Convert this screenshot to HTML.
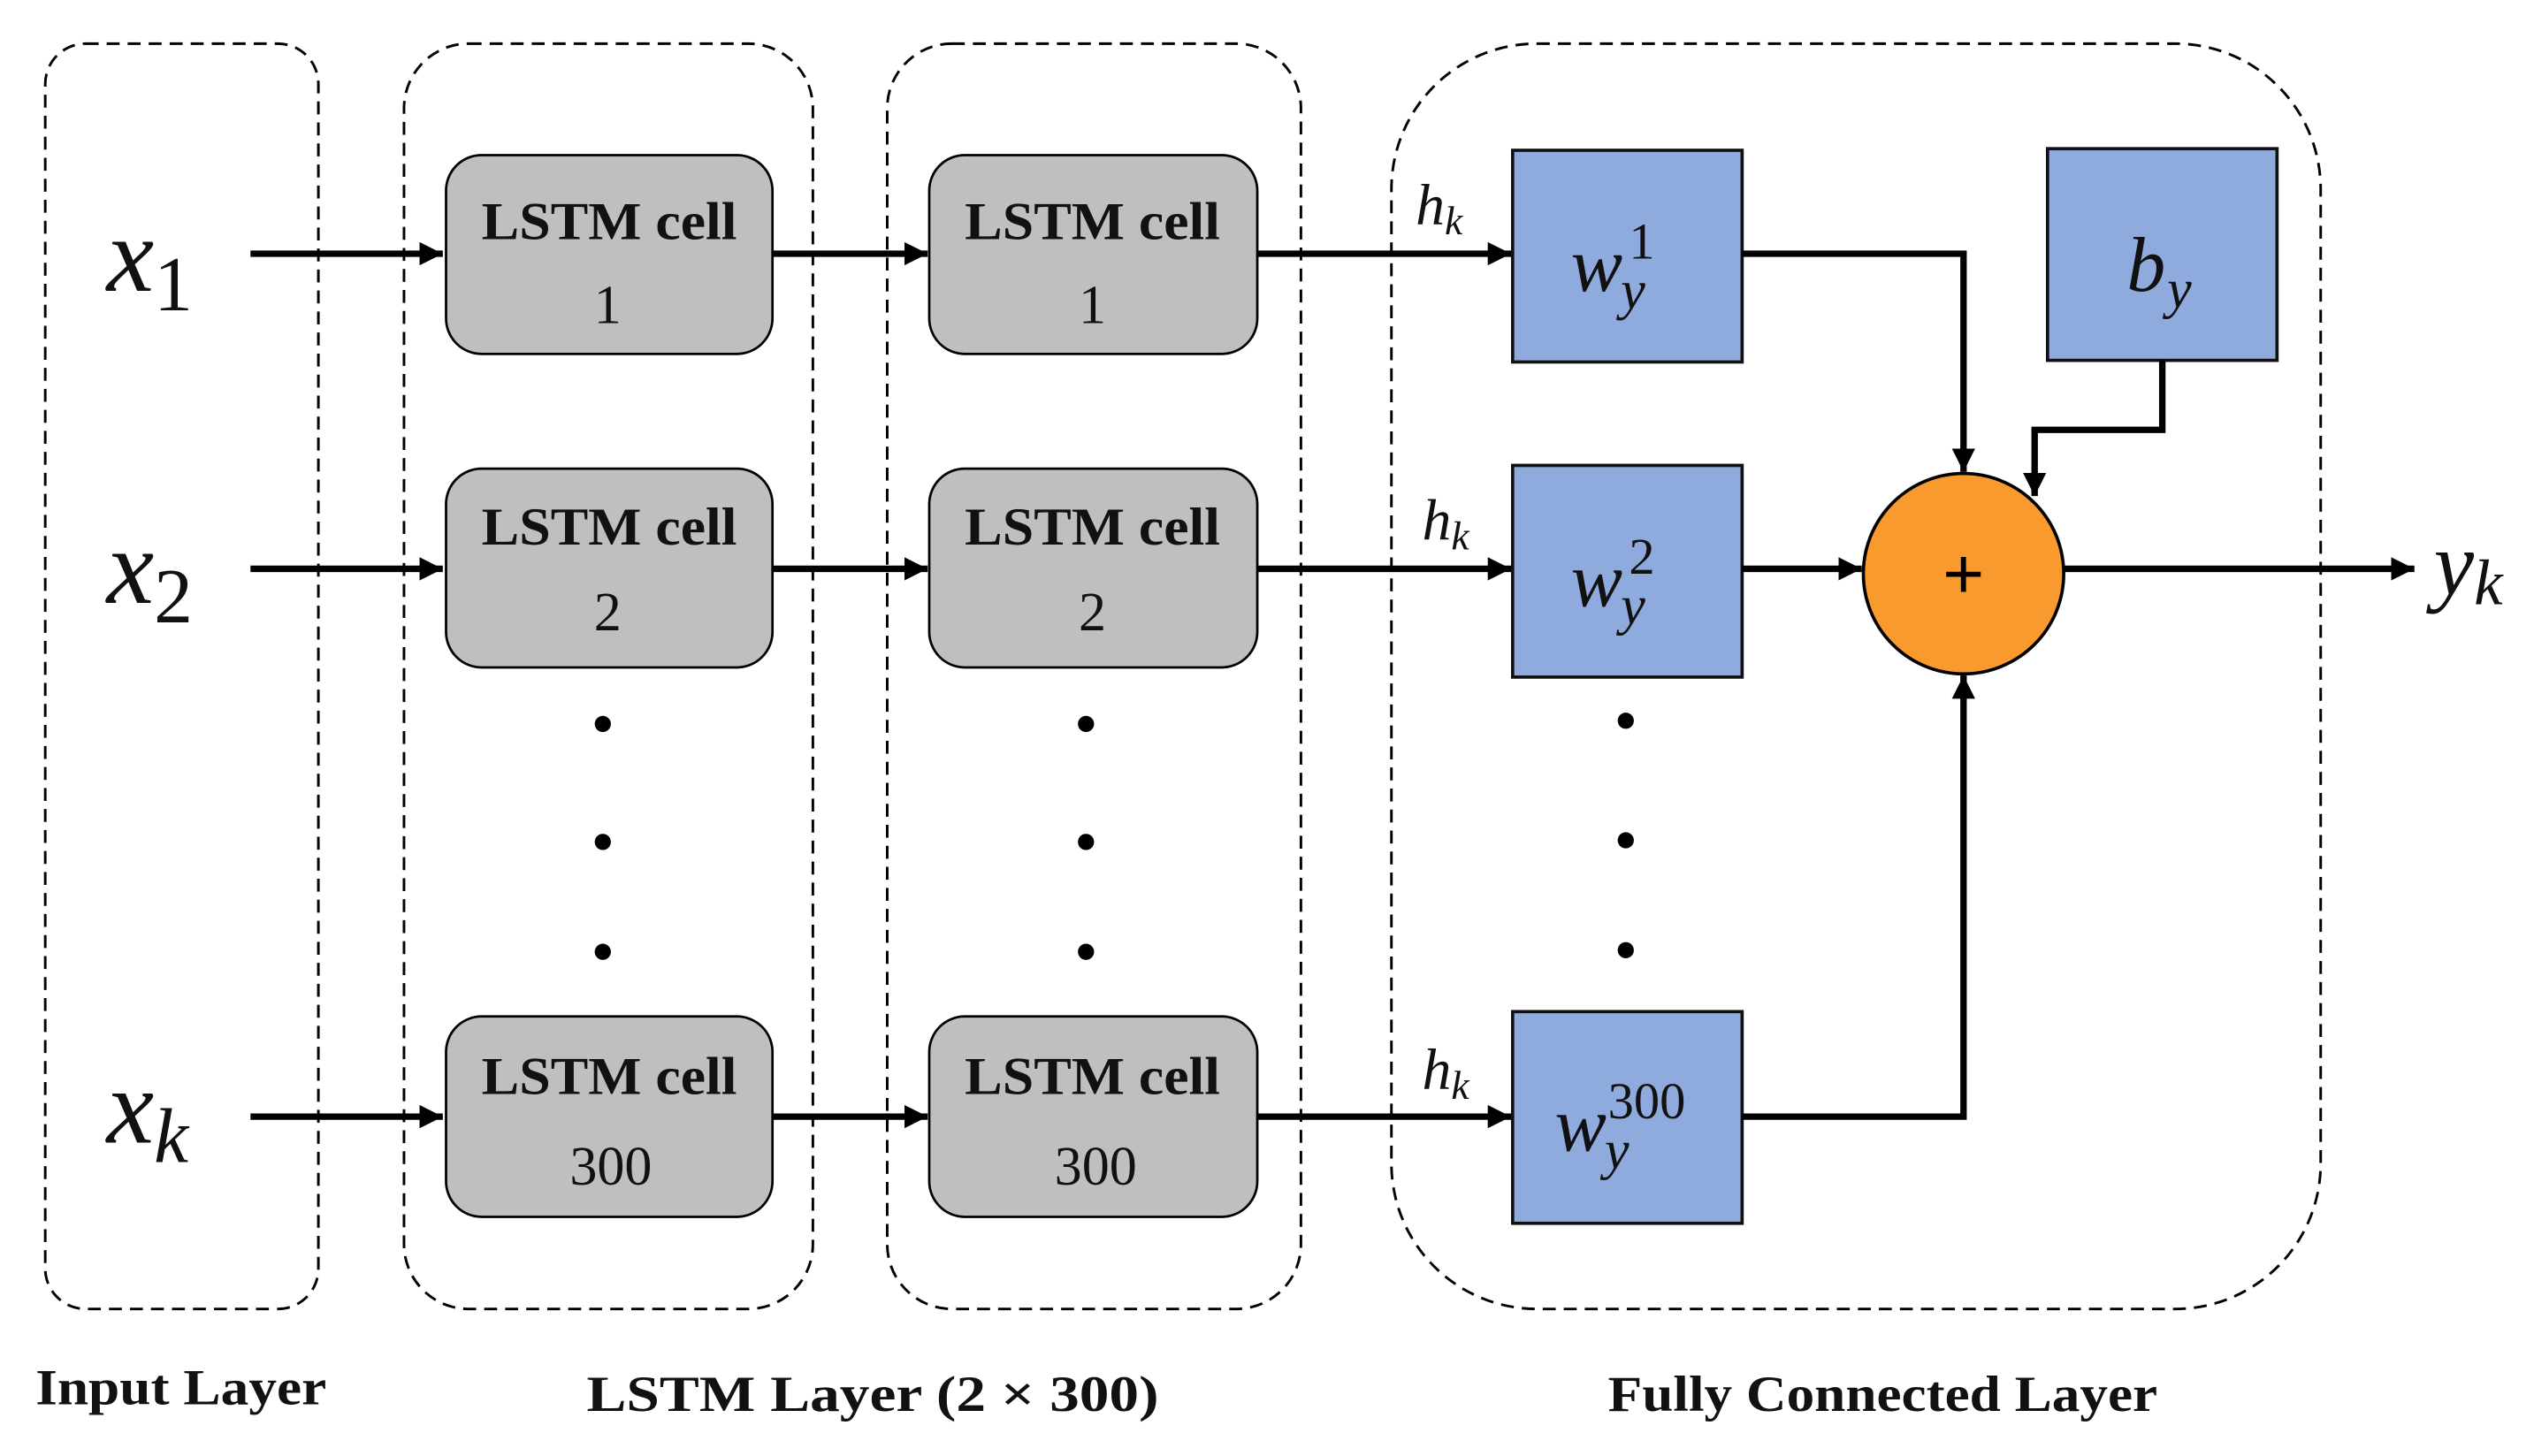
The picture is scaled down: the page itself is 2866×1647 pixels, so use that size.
<!DOCTYPE html>
<html><head><meta charset="utf-8"><style>html,body{margin:0;padding:0;background:#fff}svg{display:block}</style></head>
<body>
<svg width="2866" height="1647" viewBox="0 0 1568 901" preserveAspectRatio="none" xmlns="http://www.w3.org/2000/svg">
<defs>
<marker id="a" viewBox="0 0 10 10" refX="10" refY="5" markerWidth="3.6" markerHeight="3.6" orient="auto" markerUnits="strokeWidth"><path d="M0,0 L10,5 L0,10 z" fill="#000"/></marker>
</defs>
<g fill="none" stroke="#000" stroke-width="1.6" stroke-dasharray="8,5">
<rect x="28" y="27" width="169" height="783" rx="25"/>
<rect x="250" y="27" width="253" height="783" rx="40"/>
<rect x="549" y="27" width="256" height="783" rx="40"/>
<rect x="861" y="27" width="575" height="783" rx="90"/>
</g>
<g fill="#bfbfbf" stroke="#000" stroke-width="1.5">
<rect x="276" y="96" width="202" height="123" rx="22"/>
<rect x="575" y="96" width="203" height="123" rx="22"/>
<rect x="276" y="290" width="202" height="123" rx="22"/>
<rect x="575" y="290" width="203" height="123" rx="22"/>
<rect x="276" y="629" width="202" height="124" rx="22"/>
<rect x="575" y="629" width="203" height="124" rx="22"/>
</g>
<g font-family="Liberation Serif, serif" font-weight="bold" font-size="33" text-anchor="middle" fill="#111">
<text x="377" y="148" textLength="158" lengthAdjust="spacingAndGlyphs">LSTM cell</text>
<text x="676" y="148" textLength="158" lengthAdjust="spacingAndGlyphs">LSTM cell</text>
<text x="377" y="337" textLength="158" lengthAdjust="spacingAndGlyphs">LSTM cell</text>
<text x="676" y="337" textLength="158" lengthAdjust="spacingAndGlyphs">LSTM cell</text>
<text x="377" y="677" textLength="158" lengthAdjust="spacingAndGlyphs">LSTM cell</text>
<text x="676" y="677" textLength="158" lengthAdjust="spacingAndGlyphs">LSTM cell</text>
</g>
<g font-family="Liberation Serif, serif" font-size="34" text-anchor="middle" fill="#111">
<text x="376" y="200">1</text><text x="676" y="200">1</text>
<text x="376" y="390">2</text><text x="676" y="390">2</text>
<text x="378" y="733">300</text><text x="678" y="733">300</text>
</g>
<g fill="#8faadc" stroke="#111" stroke-width="2">
<rect x="936" y="93" width="142" height="131"/>
<rect x="936" y="288" width="142" height="131"/>
<rect x="936" y="626" width="142" height="131"/>
<rect x="1267" y="92" width="142" height="131"/>
</g>
<circle cx="1215" cy="355" r="62" fill="#f99a2f" stroke="#000" stroke-width="2"/>
<text x="1215" y="370" font-family="Liberation Sans, sans-serif" font-size="44" text-anchor="middle">+</text>
<g stroke="#000" stroke-width="4" fill="none" marker-end="url(#a)">
<line x1="155" y1="157" x2="274" y2="157"/>
<line x1="478" y1="157" x2="574" y2="157"/>
<line x1="778" y1="157" x2="935" y2="157"/>
<line x1="155" y1="352" x2="274" y2="352"/>
<line x1="478" y1="352" x2="574" y2="352"/>
<line x1="778" y1="352" x2="935" y2="352"/>
<line x1="155" y1="691" x2="274" y2="691"/>
<line x1="478" y1="691" x2="574" y2="691"/>
<line x1="778" y1="691" x2="935" y2="691"/>
<polyline points="1078,157 1215,157 1215,292"/>
<polyline points="1338,223 1338,266 1259,266 1259,307"/>
<line x1="1078" y1="352" x2="1152" y2="352"/>
<polyline points="1078,691 1215,691 1215,418"/>
<line x1="1277" y1="352" x2="1494" y2="352"/>
</g>
<g fill="#000">
<circle cx="373" cy="448" r="5"/><circle cx="373" cy="521" r="5"/><circle cx="373" cy="589" r="5"/>
<circle cx="672" cy="448" r="5"/><circle cx="672" cy="521" r="5"/><circle cx="672" cy="589" r="5"/>
<circle cx="1006" cy="446" r="5"/><circle cx="1006" cy="520" r="5"/><circle cx="1006" cy="588" r="5"/>
</g>
<g font-family="Liberation Serif, serif" font-style="italic" fill="#111">
<text x="66" y="180" font-size="66">x<tspan font-style="normal" font-size="48" dy="12">1</tspan></text>
<text x="66" y="373" font-size="66">x<tspan font-style="normal" font-size="48" dy="12">2</tspan></text>
<text x="66" y="707" font-size="66">x<tspan font-size="48" dy="12">k</tspan></text>
<text x="876" y="139" font-size="36">h<tspan font-size="25" dy="6">k</tspan></text>
<text x="880" y="334" font-size="36">h<tspan font-size="25" dy="6">k</tspan></text>
<text x="880" y="674" font-size="36">h<tspan font-size="25" dy="6">k</tspan></text>
<text x="972" y="180" font-size="48">w</text><text x="1003" y="191" font-size="34">y</text><text x="1008" y="160" font-size="32" font-style="normal">1</text>
<text x="972" y="375" font-size="48">w</text><text x="1003" y="386" font-size="34">y</text><text x="1008" y="355" font-size="32" font-style="normal">2</text>
<text x="962" y="712" font-size="48">w</text><text x="993" y="723" font-size="34">y</text><text x="995" y="692" font-size="32" font-style="normal">300</text>
<text x="1316" y="180" font-size="48">b</text><text x="1341" y="190" font-size="34">y</text>
<text x="1506" y="368" font-size="56">y<tspan font-size="40" dy="6">k</tspan></text>
</g>
<g font-family="Liberation Serif, serif" font-weight="bold" font-size="31" text-anchor="middle" fill="#111">
<text x="112" y="869" textLength="180" lengthAdjust="spacingAndGlyphs">Input Layer</text>
<text x="540" y="873" textLength="354" lengthAdjust="spacingAndGlyphs">LSTM Layer (2 × 300)</text>
<text x="1165" y="873" textLength="340" lengthAdjust="spacingAndGlyphs">Fully Connected Layer</text>
</g>
</svg>
</body></html>
